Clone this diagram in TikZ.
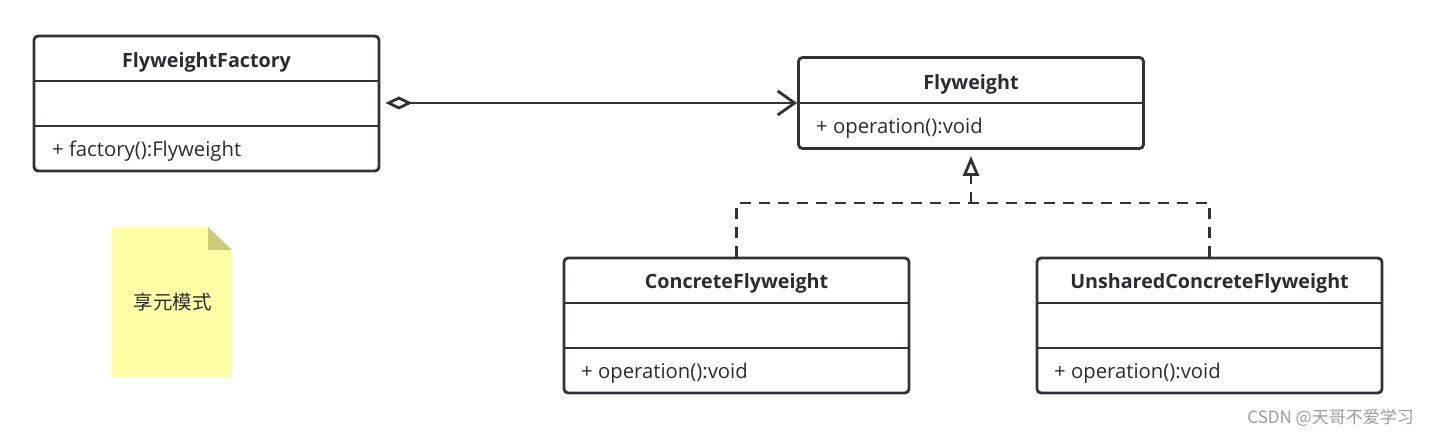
\documentclass[tikz,border=0pt]{standalone}
\usepackage{fontspec}
\setmainfont{Open Sans}
\newfontfamily\cjk{Noto Sans CJK SC}
\usetikzlibrary{arrows.meta}
\definecolor{linec}{HTML}{2F3236}
\definecolor{textc}{HTML}{2A2C30}
\definecolor{notefill}{HTML}{FFFFA6}
\definecolor{foldfill}{HTML}{CCCC77}
\definecolor{wmark}{HTML}{9A9A9A}
\tikzset{
  umlbox/.style={draw=linec, line width=2.8pt, rounded corners=4pt, minimum width=345pt, inner sep=0pt, fill=white},
  divider/.style={draw=linec, line width=2.5pt},
  title/.style={font=\fontsize{19.7}{22}\selectfont\bfseries, text=textc, anchor=base, inner sep=0pt},
  member/.style={font=\fontsize{20.3}{22}\selectfont, text=textc, anchor=base west, inner sep=0pt},
  conn/.style={draw=linec, line width=2.8pt},
  dashconn/.style={conn, dash pattern=on 11pt off 8pt},
}
\begin{document}
\begin{tikzpicture}[x=1pt,y=-1pt]
\useasboundingbox (0,0) rectangle (1429,438);
% FlyweightFactory
\node[umlbox, minimum height=135pt] (ff) at (206.5,103.5) {};
\draw[divider] (34,81) -- (379,81);
\draw[divider] (34,126) -- (379,126);
\node[title] (fft) at (206.5,67.5) {FlyweightFactory};
\node[member] (ffm) at (52,156.5) {+ factory():Flyweight};
% Flyweight
\node[umlbox, minimum height=91pt] (fw) at (971,103) {};
\draw[divider] (798.5,103) -- (1143.5,103);
\node[title] (fwt) at (971,90) {Flyweight};
\node[member] (fwm) at (816,134) {+ operation():void};
% ConcreteFlyweight
\node[umlbox, minimum height=135pt] (cf) at (736.5,325.5) {};
\draw[divider] (564,303) -- (909,303);
\draw[divider] (564,348) -- (909,348);
\node[title] (cft) at (736.5,289) {ConcreteFlyweight};
\node[member] (cfm) at (581,378) {+ operation():void};
% UnsharedConcreteFlyweight
\node[umlbox, minimum height=135pt] (ucf) at (1209.5,325.5) {};
\draw[divider] (1037,303) -- (1382,303);
\draw[divider] (1037,348) -- (1382,348);
\node[title] (ucft) at (1209.5,289) {UnsharedConcreteFlyweight};
\node[member] (ucfm) at (1054,378) {+ operation():void};
% aggregation
\draw[conn, shorten <=5pt, {Diamond[open, length=27pt, width=13pt]}-{Straight Barb[length=17pt, width=24pt]}] (ff.east |- fw.west) -- (fw.west);
% realization
\coordinate (j) at (971,203);
\draw[dashconn] (cf.north) |- (j) -| (ucf.north);
\draw[dashconn, shorten >=6pt, -{Triangle[open, length=20pt, width=16pt]}] (j) -- (fw.south);
% note
\fill[notefill] (112,227) -- (208,227) -- (232,250) -- (232,377) -- (112,377) -- cycle;
\fill[foldfill] (208,227) -- (208,250) -- (232,250) -- cycle;
\node[font=\cjk\fontsize{19.5}{22}\selectfont, text=textc, inner sep=0pt] (note) at (172.5,302) {享元模式};
% watermark
\node[font=\cjk\fontsize{17}{20}\selectfont, text=wmark, anchor=east, inner sep=0pt] (wm) at (1414,418) {CSDN @天哥不爱学习};
\end{tikzpicture}
\end{document}
